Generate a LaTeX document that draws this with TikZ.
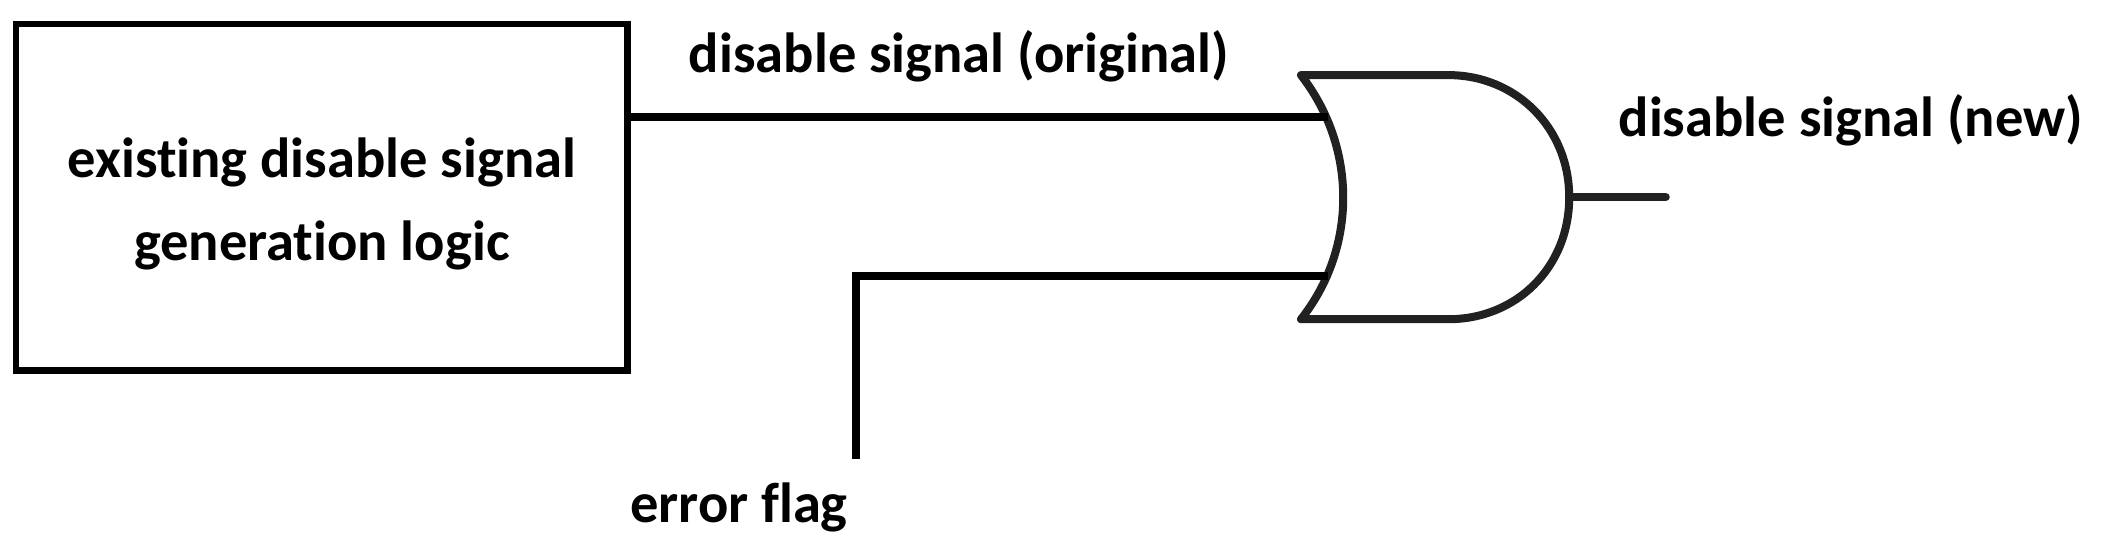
\documentclass[tikz,border=0pt]{standalone}
\usepackage{fontspec}
\setmainfont[Ligatures=NoCommon,RawFeature=-liga]{Carlito}
\begin{document}
\begin{tikzpicture}[x=0.02cm,y=-0.02cm,
  lbl/.style={font=\bfseries\fontsize{24}{33}\selectfont, align=center, inner sep=0pt},
  wire/.style={line width=6*0.567pt, black},
  gate/.style={line width=6*0.567pt, draw=black!87, line join=round, line cap=round}]
\useasboundingbox (0,0) rectangle (1568,409);
\node[draw, line width=5*0.567pt, minimum width=456*0.02cm, minimum height=258*0.02cm, inner sep=0pt] (box) at (240,147) {};
\node[lbl] (boxt) at (240,152) {existing disable signal\\[2pt]generation logic};
\node[lbl] (orig) at (715,42) {disable signal (original)};
\node[lbl] (new) at (1380,90) {disable signal (new)};
\node[lbl] (err) at (551,378) {error flag};
\coordinate (in1) at (990,87);
\coordinate (in2) at (990,206);
\coordinate (out) at (1170,147);
\coordinate (outend) at (1242,147);
\coordinate (corner) at (638,206);
\coordinate (bot) at (638,342);
\draw[gate] (970,56) .. controls (1012,110) and (1012,185) .. (970,238)
  -- (1080,238) .. controls (1130,238) and (1170,200) .. (out)
  .. controls (1170,95) and (1130,56) .. (1080,56) -- cycle;
\draw[wire] (box.east |- in1) -- (in1);
\draw[wire] (bot) -- (corner) -- (in2);
\draw[gate] (out) -- (outend);
\end{tikzpicture}
\end{document}
